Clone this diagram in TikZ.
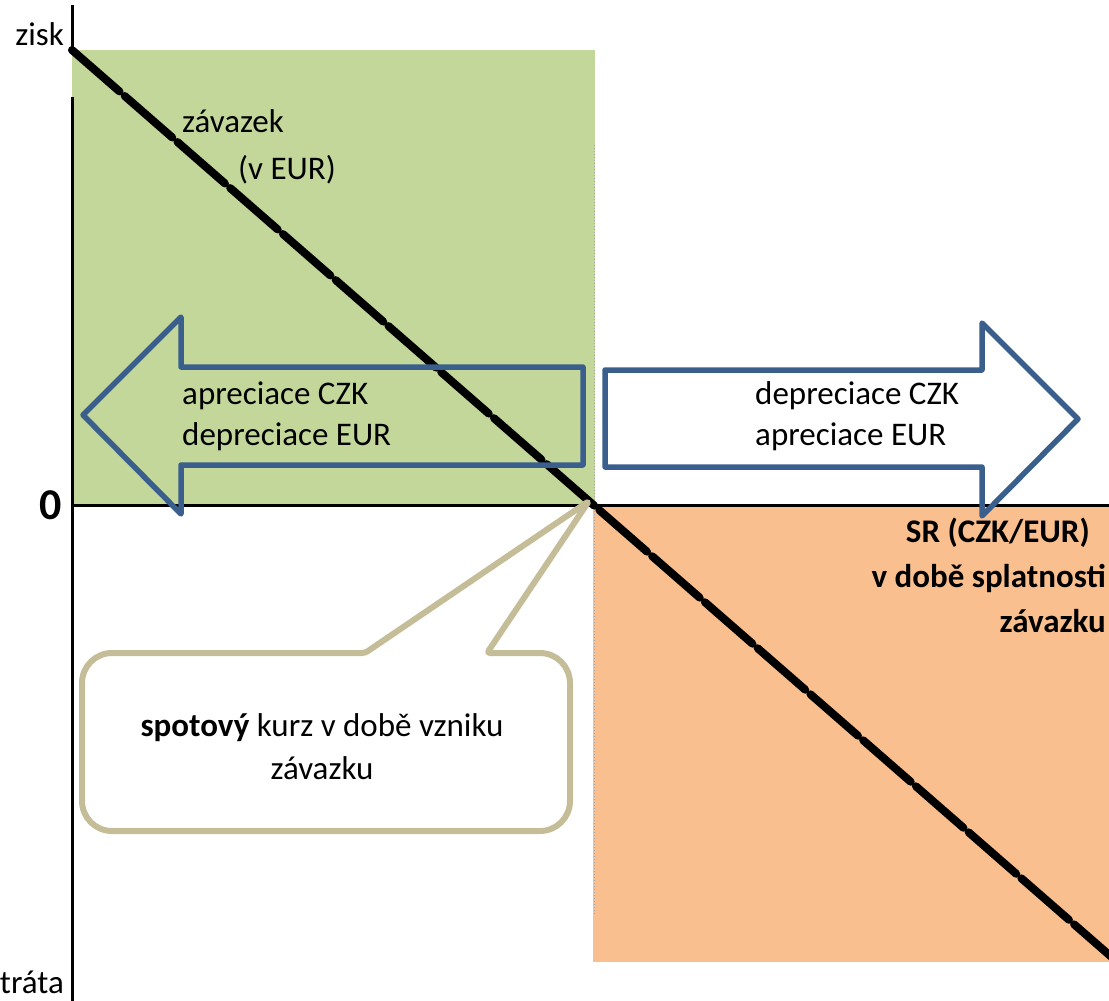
\documentclass[tikz,border=0pt]{standalone}
\usepackage{fontspec}
\setmainfont{Carlito}
\definecolor{gaingreen}{HTML}{C4D79B}
\definecolor{lossorange}{HTML}{FABF8F}
\definecolor{arrowblue}{HTML}{3A5F8D}
\definecolor{callouttan}{HTML}{C4BD97}
\begin{document}
\begin{tikzpicture}[x=1pt,y=-1pt,
  txt/.style={font=\fontsize{33}{38}\selectfont, inner sep=0pt, text=black},
  boldtxt/.style={txt, font=\fontsize{33}{38}\selectfont\bfseries},
  axisline/.style={line width=3pt, black},
  payoff/.style={line width=8pt, black, line cap=round, dash pattern=on 63pt off 7pt},
  bigarrow/.style={line width=5.5pt, arrowblue, line join=round},
  bubble/.style={line width=6pt, callouttan, fill=white, line join=round}]
\useasboundingbox (0,0) rectangle (1109,1001);

% profit and loss regions
\fill[gaingreen] (72,50) rectangle (595,505);
\fill[lossorange] (593,505) rectangle (1109,962);
\draw[gray!70, line width=1pt, dotted] (594,145) -- (594,915);

% axes
\coordinate (ytop) at (72,5);
\coordinate (ygap1) at (72,51);
\coordinate (ygap2) at (72,97);
\coordinate (ybot) at (72,1001);
\coordinate (origin) at (72,505);
\coordinate (xend) at (1109,505);
\draw[axisline] (ytop) -- (ygap1);
\draw[axisline] (ygap2) -- (ybot);
\draw[axisline] (origin) -- (xend);

% payoff line of the EUR liability
\coordinate (pstart) at (72,50);
\coordinate (pend) at (1115,960);
\draw[payoff] (pstart) -- (pend);

% left arrow: CZK appreciation
\draw[bigarrow] (83,415) -- (181,317) -- (181,367) -- (583,367) -- (583,465)
  -- (181,465) -- (181,514) -- cycle;
% right arrow: CZK depreciation
\draw[bigarrow] (1078,419) -- (982,323) -- (982,370) -- (605,370) -- (605,467)
  -- (982,467) -- (982,516) -- cycle;

% callout for the spot rate
\coordinate (spot) at (589,501);
\draw[bubble] (82,742) [rounded corners=30pt] -- (82,653) [rounded corners=3pt]
  -- (365,653) -- (spot) -- (487,653) [rounded corners=30pt] -- (570,653)
  -- (570,831) -- (82,831) -- cycle;

% labels
\node[txt, anchor=east] (zisk) at (64,34) {zisk};
\node[txt, anchor=base east] (trata) at (64,993) {tráta};
\node[txt, anchor=center, font=\fontsize{44}{48}\selectfont\bfseries] (zero) at (51,505) {0};
\node[txt, anchor=west] (zav) at (182,121) {závazek};
\node[txt, anchor=west] (veur) at (238,170) {(v EUR)};
\node[txt, anchor=west] (apczk) at (182,396) {apreciace CZK};
\node[txt, anchor=west] (deeur) at (182,437) {depreciace EUR};
\node[txt, anchor=west] (deczk) at (755,396) {depreciace CZK};
\node[txt, anchor=west] (apeur) at (755,437) {apreciace EUR};
\node[boldtxt, anchor=east] (sr) at (1090,533) {SR (CZK/EUR)};
\node[boldtxt, anchor=east] (splat) at (1106,578) {v době splatnosti};
\node[boldtxt, anchor=east] (zavb) at (1106,621) {závazku};
\node[txt] (spottxt1) at (322,728) {\textbf{spotový} kurz v době vzniku};
\node[txt] (spottxt2) at (322,768) {závazku};
\end{tikzpicture}
\end{document}
